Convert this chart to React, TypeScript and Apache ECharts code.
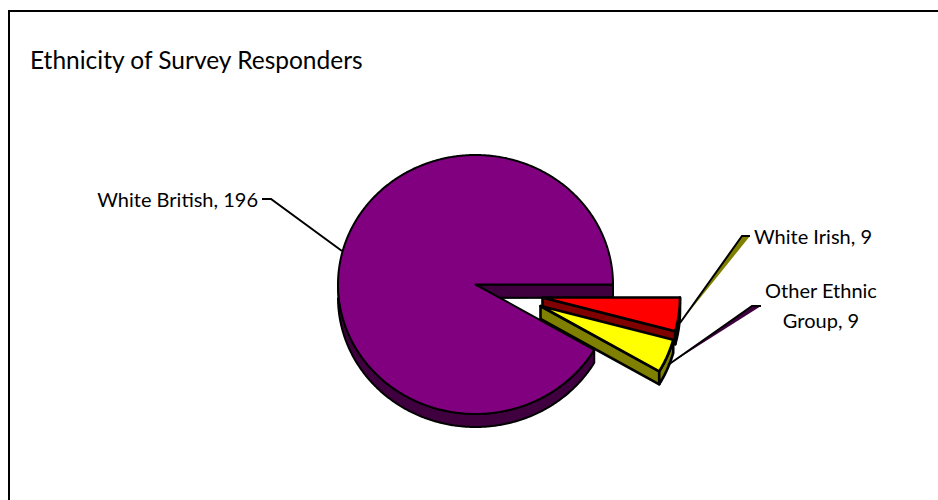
import React, { useEffect, useRef } from "react";
import * as echarts from "echarts";

const titleText = "Ethnicity of Survey Responders";
const categories = ["White British", "White Irish", "Other Ethnic\nGroup"];
const values = [196, 9, 9];

const topColors = ["#800080", "#ff0000", "#ffff00"];
const wallColors = ["#400040", "#800000", "#808000"];
const leaderFills = ["none", "#808000", "#400040"];
const edgeWidths = [2, 2.6, 2.6];

const CX = 475.5;
const CY = 284.5;
const RX = 137.5;
const RY = 129.5;
const DEPTH = 13;
const FONT = "Lato";
const toRad = Math.PI / 180;

const total = values.reduce((a, b) => a + b, 0);
// The large slice ends exactly at 3 o'clock, the others follow clockwise.
const firstAngle = -(values[0] / total) * 360;

const offsets = [
  [0, 0],
  [67, 13],
  [65, 21.5],
];
const leaders = [
  [[262, 199], [271, 199], [342, 251]],
  [[750, 236], [742, 236], [680, 323]],
  [[761, 306], [752, 306], [668, 365]],
];
const labelSpots = [
  { x: 258, y: 199, align: "right" },
  { x: 754, y: 236, align: "left" },
  { x: 821, y: 305, align: "center" },
];

function renderSlice(params: any, api: any) {
  const i = params.dataIndex;
  const value = api.value(0);
  const before = values.slice(0, i).reduce((a, b) => a + b, 0);
  const a0 = firstAngle + (before / total) * 360;
  const a1 = a0 + (value / total) * 360;
  const ox = CX + offsets[i][0];
  const oy = CY + offsets[i][1];

  const rim: number[][] = [];
  const steps = Math.ceil(a1 - a0) * 2;
  for (let s = 0; s <= steps; s++) {
    const t = (a0 + ((a1 - a0) * s) / steps) * toRad;
    rim.push([ox + RX * Math.cos(t), oy + RY * Math.sin(t), Math.sin(t)]);
  }

  const poly = (points: number[][], fill: string) => ({
    type: "polygon",
    shape: { points: points.map((p) => [p[0], p[1]]) },
    style: { fill, stroke: "#000", lineWidth: edgeWidths[i], lineJoin: "round" },
  });

  const children: any[] = [];

  // Radial faces turned towards the viewer.
  const radial = (p: number[]) => [
    [ox, oy],
    [p[0], p[1]],
    [p[0], p[1] + DEPTH],
    [ox, oy + DEPTH],
  ];
  if (Math.cos(a1 * toRad) > 0) children.push(poly(radial(rim[rim.length - 1]), wallColors[i]));
  if (Math.cos(a0 * toRad) < 0) children.push(poly(radial(rim[0]), wallColors[i]));

  // Curved outer wall, only where it faces downwards.
  const front = rim.filter((p) => p[2] > -0.001);
  if (front.length > 1) {
    const lower = front.map((p) => [p[0], p[1] + DEPTH]).reverse();
    children.push(poly([...front, ...lower], wallColors[i]));
  }

  // Top surface.
  children.push(poly([[ox, oy], ...rim], topColors[i]));

  // Callout line with its thin shaded sliver.
  const [l0, l1, l2] = leaders[i];
  if (leaderFills[i] !== "none") {
    children.push({
      type: "polygon",
      shape: { points: [l0, l1, l2] },
      style: { fill: leaderFills[i], stroke: "none" },
    });
  }
  children.push({
    type: "polyline",
    shape: { points: [l0, l1, l2] },
    style: { fill: "none", stroke: "#000", lineWidth: 2 },
  });

  const spot = labelSpots[i];
  children.push({
    type: "text",
    x: spot.x,
    y: spot.y,
    style: {
      text: `${categories[i]}, ${value}`,
      fill: "#000",
      font: `20px ${FONT}`,
      align: spot.align,
      verticalAlign: "middle",
      lineHeight: 30,
    },
  });

  return { type: "group", children };
}

export default function App() {
  const ref = useRef<HTMLDivElement>(null);

  useEffect(() => {
    document.body.style.margin = "0";
    const chart = echarts.init(ref.current!, null, { renderer: "svg" });
    chart.setOption({
      animation: false,
      backgroundColor: "#ffffff",
      title: {
        text: titleText,
        left: 25,
        top: 42,
        textStyle: { fontFamily: FONT, fontSize: 24.5, fontWeight: "normal", color: "#000" },
      },
      graphic: [
        {
          type: "polyline",
          shape: { points: [[9, 500], [9, 11], [938, 11]] },
          style: { fill: "none", stroke: "#000", lineWidth: 2 },
        },
      ],
      series: [
        {
          type: "custom",
          coordinateSystem: "none",
          renderItem: renderSlice,
          data: values.map((v) => [v]),
          silent: true,
        },
      ],
    });
    return () => chart.dispose();
  }, []);

  return <div ref={ref} style={{ width: 938, height: 500 }} />;
}
